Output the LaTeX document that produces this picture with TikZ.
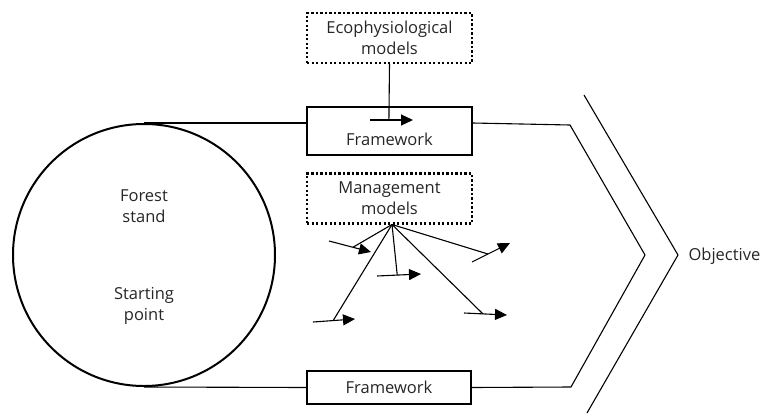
\documentclass[tikz,border=0pt]{standalone}
\usepackage{fontspec}
\setmainfont{Open Sans}
\usepackage{tikz}
\usetikzlibrary{arrows.meta,calc}

\begin{document}
\begin{tikzpicture}[x=1pt,y=-1pt,
	every node/.style={text=black!85,font=\fontsize{16.5}{21}\selectfont,align=center},
	stand/.style={circle,draw,line width=2pt,minimum size=262pt,inner sep=0pt},
	model/.style={rectangle,draw,line width=2.2pt,dash pattern=on 2.2pt off 2.3pt,minimum width=165pt,minimum height=50pt},
	frame/.style={rectangle,draw,line width=2pt,minimum width=165pt,minimum height=48pt},
	frameB/.style={rectangle,draw,line width=2pt,minimum width=164pt,minimum height=33pt},
	link/.style={line width=1.1pt},
	arr/.style={line width=1.1pt,-{Triangle[length=12pt,width=11pt]}}]
	\useasboundingbox (0,0) rectangle (769,413);
	% starting point
	\node[stand] (S) at (144,255) {};
	\node (FS) at (144,206) {Forest\\stand};
	\node (SP) at (144,306) {Starting\\point};
	% models and frameworks
	\node[model] (E) at (389.5,38) {Ecophysiological\\models};
	\node[frame] (F1) at (389.5,131) {};
	\node (F1l) at (389.5,139) {Framework};
	\node[model] (M) at (389.5,198.5) {Management\\models};
	\node[frameB] (F2) at (389,387.5) {Framework};
	\node[anchor=west] (O) at (685,256) {Objective};
	% chevrons
	\coordinate (TR) at (570,125);
	\coordinate (TIP) at (645,255);
	\coordinate (BR) at (571,387);
	\coordinate (O1) at (584,95);
	\coordinate (O2) at (678,255);
	\coordinate (O3) at (587,413);
	\draw[link] (S.north) -- (S.north -| F1.west);
	\draw[link] (S.north -| F1.east) -- (TR) -- (TIP) -- (BR) -- (F2.east);
	\draw[link] (S.south) -- (F2.west);
	\draw[link] (O1) -- (O2) -- (O3);
	% ecophysiological input
	\coordinate (E1) at (370,120);
	\coordinate (E2) at (413,120);
	\draw[arr] (E1) -- (E2);
	\draw[link] (E.south) -- ($(E1)!0.44!(E2)$);
	% management options
	\coordinate (Mo) at (392,224.5);
	\coordinate (A1) at (329,241);
	\coordinate (B1) at (371,252);
	\coordinate (A2) at (313,322);
	\coordinate (B2) at (355,319);
	\coordinate (A3) at (377,276);
	\coordinate (B3) at (421,274);
	\coordinate (A4) at (464,313);
	\coordinate (B4) at (507,315);
	\coordinate (A5) at (472,262);
	\coordinate (B5) at (510,243);
	\draw[arr] (A1) -- (B1);
	\draw[arr] (A2) -- (B2);
	\draw[arr] (A3) -- (B3);
	\draw[arr] (A4) -- (B4);
	\draw[arr] (A5) -- (B5);
	\draw[link] (Mo) -- ($(A1)!0.57!(B1)$);
	\draw[link] (Mo) -- ($(A2)!0.48!(B2)$);
	\draw[link] (Mo) -- ($(A3)!0.46!(B3)$);
	\draw[link] (Mo) -- ($(A4)!0.44!(B4)$);
	\draw[link] (Mo) -- ($(A5)!0.42!(B5)$);
\end{tikzpicture}
\end{document}
